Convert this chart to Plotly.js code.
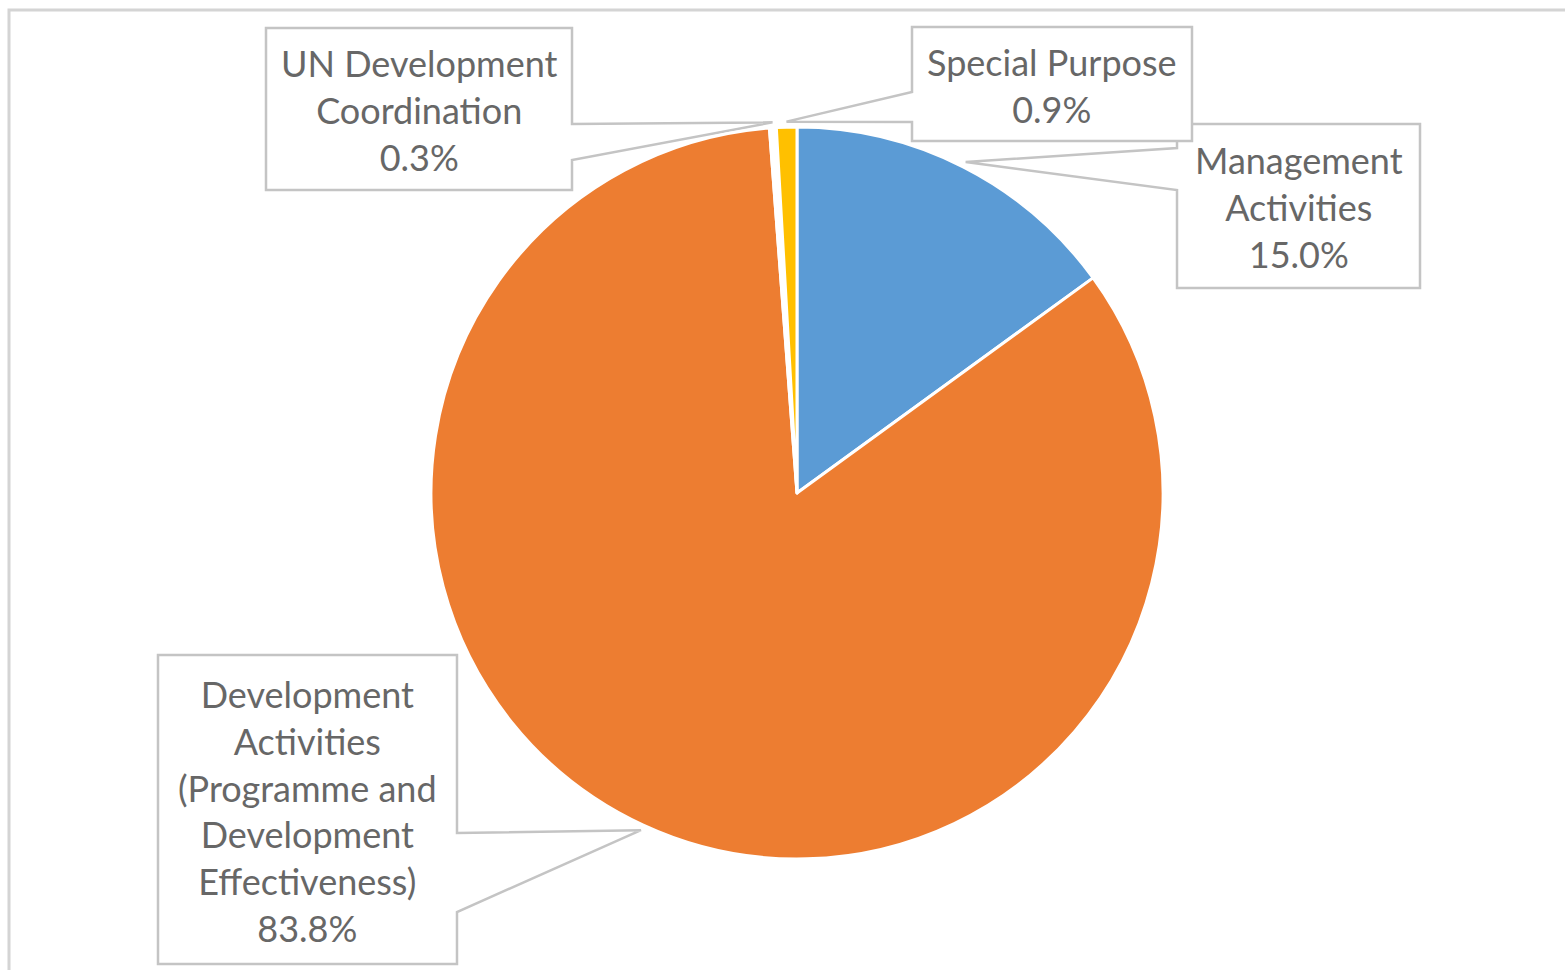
<!DOCTYPE html>
<html>
<head>
<meta charset="utf-8">
<script src="https://cdn.plot.ly/plotly-3.0.1.min.js"></script>
<style>
  html, body { margin: 0; padding: 0; background: #ffffff; }
  #chart { width: 1565px; height: 970px; }
</style>
</head>
<body>
<div id="chart"></div>
<script>
// ---- data ----
var categories = [
  "Management Activities",
  "Development Activities (Programme and Development Effectiveness)",
  "UN Development Coordination",
  "Special Purpose"
];
var labelLines = [
  ["Management", "Activities"],
  ["Development", "Activities", "(Programme and", "Development", "Effectiveness)"],
  ["UN Development", "Coordination"],
  ["Special Purpose"]
];
var values = [15.0, 83.8, 0.3, 0.9];
var colors = ["#5B9BD5", "#ED7D31", "#FFFFFF", "#FFC000"];

// ---- layout geometry (pixels) ----
var W = 1565, H = 970;
var cx = 797, cy = 493, R = 366;
// callout boxes: [x0, y0, x1, y1], attach side, attach y's
var boxes = [
  {b: [1177, 124, 1420, 288], side: "left",  a: [148, 190]},
  {b: [158, 655, 457, 964],   side: "right", a: [833, 912]},
  {b: [266, 28, 572, 190],    side: "right", a: [124, 160]},
  {b: [912, 27, 1192, 141],   side: "left",  a: [92, 122]}
];
var drawOrder = [2, 0, 3, 1];

function px(x) { return x / W; }
function py(y) { return 1 - y / H; }

var total = values.reduce(function (s, v) { return s + v; }, 0);
var cum = 0;
var tips = values.map(function (v) {
  var mid = (cum + v / 2) / total * 2 * Math.PI;
  cum += v;
  var r = R * 1.015;
  return [cx + r * Math.sin(mid), cy - r * Math.cos(mid)];
});

var shapes = [];
// outer chart border
shapes.push({
  type: "rect", xref: "paper", yref: "paper", layer: "below",
  x0: px(9), y0: py(1000), x1: px(1600), y1: py(10),
  line: {color: "#D4D4D4", width: 3}, fillcolor: "rgba(0,0,0,0)"
});

drawOrder.forEach(function (i) {
  var bx = boxes[i], b = bx.b, t = tips[i], a = bx.a;
  var pts;
  if (bx.side === "right") {
    pts = [[b[0], b[1]], [b[2], b[1]], [b[2], a[0]], t, [b[2], a[1]], [b[2], b[3]], [b[0], b[3]]];
  } else {
    pts = [[b[0], b[1]], [b[2], b[1]], [b[2], b[3]], [b[0], b[3]], [b[0], a[1]], t, [b[0], a[0]]];
  }
  var d = pts.map(function (p, k) {
    return (k === 0 ? "M " : "L ") + px(p[0]).toFixed(5) + " " + py(p[1]).toFixed(5);
  }).join(" ") + " Z";
  shapes.push({
    type: "path", xref: "paper", yref: "paper", layer: "below",
    path: d, fillcolor: "#FFFFFF",
    line: {color: "#C4C4C4", width: 2.5}
  });
});

var annotations = drawOrder.map(function (i) {
  var b = boxes[i].b;
  var txt = labelLines[i].concat([values[i].toFixed(1) + "%"]).join("<br>");
  return {
    xref: "paper", yref: "paper",
    x: px((b[0] + b[2]) / 2), y: py((b[1] + b[3]) / 2 + 1),
    xanchor: "center", yanchor: "middle",
    text: txt, showarrow: false, align: "center",
    font: {family: "Lato, 'Open Sans', sans-serif", size: 36, color: "#676767"}
  };
});

var trace = {
  type: "pie",
  labels: categories,
  values: values,
  sort: false,
  direction: "clockwise",
  rotation: 0,
  textinfo: "none",
  textposition: "none",
  hoverinfo: "label+percent",
  marker: {colors: colors, line: {color: "#FFFFFF", width: 3}},
  domain: {
    x: [px(cx - R), px(cx + R)],
    y: [py(cy + R), py(cy - R)]
  },
  showlegend: false
};

var layout = {
  width: W, height: H,
  margin: {l: 0, r: 0, t: 0, b: 0},
  paper_bgcolor: "#FFFFFF",
  showlegend: false,
  shapes: shapes,
  annotations: annotations
};

Plotly.newPlot("chart", [trace], layout, {displayModeBar: false, staticPlot: true});
</script>
</body>
</html>
